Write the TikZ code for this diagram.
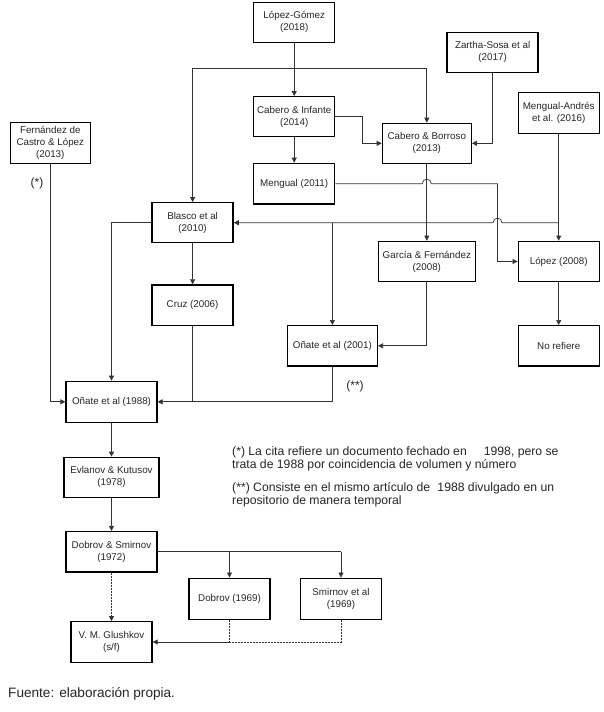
\documentclass[tikz,border=0pt]{standalone}
\usepackage{fontspec}
\setmainfont{Liberation Sans}
\usetikzlibrary{arrows.meta,calc}
\begin{document}
\begin{tikzpicture}[x=1pt,y=-1pt,
  box/.style={draw=black,line width=1.3pt,rectangle,align=center,inner sep=1.5pt,
    text=black!85,font=\fontsize{9.8}{12}\selectfont},
  con/.style={draw=black!80,line width=0.7pt},
  arr/.style={con,-{Triangle[length=5pt,width=5pt]}},
  dsh/.style={dash pattern=on 2pt off 1pt},
  note/.style={anchor=north west,align=left,inner sep=0pt,text=black!85,
    font=\fontsize{12.2}{13.4}\selectfont}]
\useasboundingbox[fill=white] (0,0) rectangle (604,712);

% boxes
\node[box,minimum width=81,minimum height=40] (lg) at (294.2,22.3) {López-Gómez\\(2018)};
\node[box,minimum width=91,minimum height=40] (zs) at (492.6,52.3) {Zartha-Sosa et al\\(2017)};
\node[box,minimum width=81,minimum height=40] (ci) at (294.2,116.7) {Cabero \& Infante\\(2014)};
\node[box,minimum width=81,minimum height=40.6] (ma) at (558.7,113) {Mengual-Andrés\\et al. (2016)};
\node[box,minimum width=80,minimum height=40.6] (fc) at (50.3,143) {Fernández de\\Castro \& López\\(2013)};
\node[box,minimum width=89,minimum height=40] (cb) at (426.8,143.3) {Cabero \& Borroso\\(2013)};
\node[box,minimum width=81,minimum height=40.7] (me) at (294.2,183.7) {Mengual (2011)};
\node[box,minimum width=81,minimum height=40] (bl) at (192.6,222.7) {Blasco et al\\(2010)};
\node[box,minimum width=81,minimum height=40.7] (cr) at (192.6,305.3) {Cruz (2006)};
\node[box,minimum width=97,minimum height=40.4] (gf) at (426.8,261.5) {García \& Fernández\\(2008)};
\node[box,minimum width=81,minimum height=40.4] (lo) at (558.7,261.5) {López (2008)};
\node[box,minimum width=81,minimum height=40.3] (nr) at (558.7,345.8) {No refiere};
\node[box,minimum width=90,minimum height=40.3] (o01) at (332.4,345.8) {Oñate et al (2001)};
\node[box,minimum width=91,minimum height=41] (o88) at (111.5,401.8) {Oñate et al (1988)};
\node[box,minimum width=95,minimum height=40] (ev) at (111.5,477.3) {Evlanov \& Kutusov\\(1978)};
\node[box,minimum width=91,minimum height=40.5] (ds) at (111.5,551.8) {Dobrov \& Smirnov\\(1972)};
\node[box,minimum width=81,minimum height=41] (d69) at (229.5,598.7) {Dobrov (1969)};
\node[box,minimum width=81,minimum height=41] (sm) at (341,598.7) {Smirnov et al\\(1969)};
\node[box,minimum width=81,minimum height=40.5] (gl) at (111.5,642) {V. M. Glushkov\\(s/f)};

% labels
\node[font=\fontsize{12}{14}\selectfont,text=black!85] (s1) at (37,183) {(*)};
\node[font=\fontsize{12}{14}\selectfont,text=black!85] (s2) at (355,386) {(**)};
\node[note] (n1) at (232,446) {(*) La cita refiere un documento fechado en\hspace{1.4em}1998, pero se\\trata de 1988 por coincidencia de volumen y número};
\node[note] (n2) at (232,482) {(**) Consiste en el mismo artículo de\hspace{0.6em}1988 divulgado en un\\repositorio de manera temporal};
\node[anchor=base west,inner sep=0pt,text=black!85,font=\fontsize{13.6}{16}\selectfont] (src) at (8,697.5) {Fuente: elaboración propia.};

% junction coordinates
\coordinate (jt) at (lg.south |- 0,68.3);
\coordinate (mv) at (497.5,183.7);
\coordinate (h1) at (cb.south |- me.east);
\coordinate (h2) at (mv |- bl.east);
\coordinate (jb) at (ma.south |- bl.east);
\coordinate (jd) at (d69.south |- gl.east);

% connectors
\draw[arr] (lg) -- (ci);
\draw[arr] (jt) -| (bl.north);
\draw[arr] (jt) -| (cb.north);
\draw[arr] (ci.east) -- ++(26.5,0) |- (cb.west);
\draw[arr] (zs.south) |- (cb.east);
\draw[arr] (ci) -- (me);
\draw[arr] (cb.south) -- (gf.north);
\draw[arr] (me.east) -- ([xshift=-4.5pt]h1) .. controls ([xshift=-4.5pt,yshift=6pt]h1) and ([xshift=4.5pt,yshift=6pt]h1) .. ([xshift=4.5pt]h1) -- (mv) |- (lo.west);
\draw[arr] (ma.south) -- (lo.north);
\draw[arr] (jb) -- ([xshift=4.5pt]h2) .. controls ([xshift=4.5pt,yshift=6pt]h2) and ([xshift=-4.5pt,yshift=6pt]h2) .. ([xshift=-4.5pt]h2) -- (bl.east);
\draw[arr] (o01.north |- bl.east) -- (o01.north);
\draw[arr] (lo) -- (nr);
\draw[arr] (gf.south) |- (o01.east);
\draw[arr] (bl) -- (cr);
\draw[arr] (bl.west) -| (o88.north);
\draw[arr] (fc.south) |- (o88.west);
\draw[con] (cr.south) -- (cr.south |- o88.east);
\draw[arr] (o01.south) |- (o88.east);
\draw[arr] (o88) -- (ev);
\draw[arr] (ev) -- (ds);
\draw[arr,dsh] (ds) -- (gl);
\draw[con] (ds.east) -- (sm.north |- ds.east);
\draw[arr] (d69.north |- ds.east) -- (d69.north);
\draw[arr] (sm.north |- ds.east) -- (sm.north);
\draw[con,dsh] (d69.south) -- (jd);
\draw[con,dsh] (sm.south) |- (jd);
\draw[arr] (jd) -- (gl.east);
\end{tikzpicture}
\end{document}
